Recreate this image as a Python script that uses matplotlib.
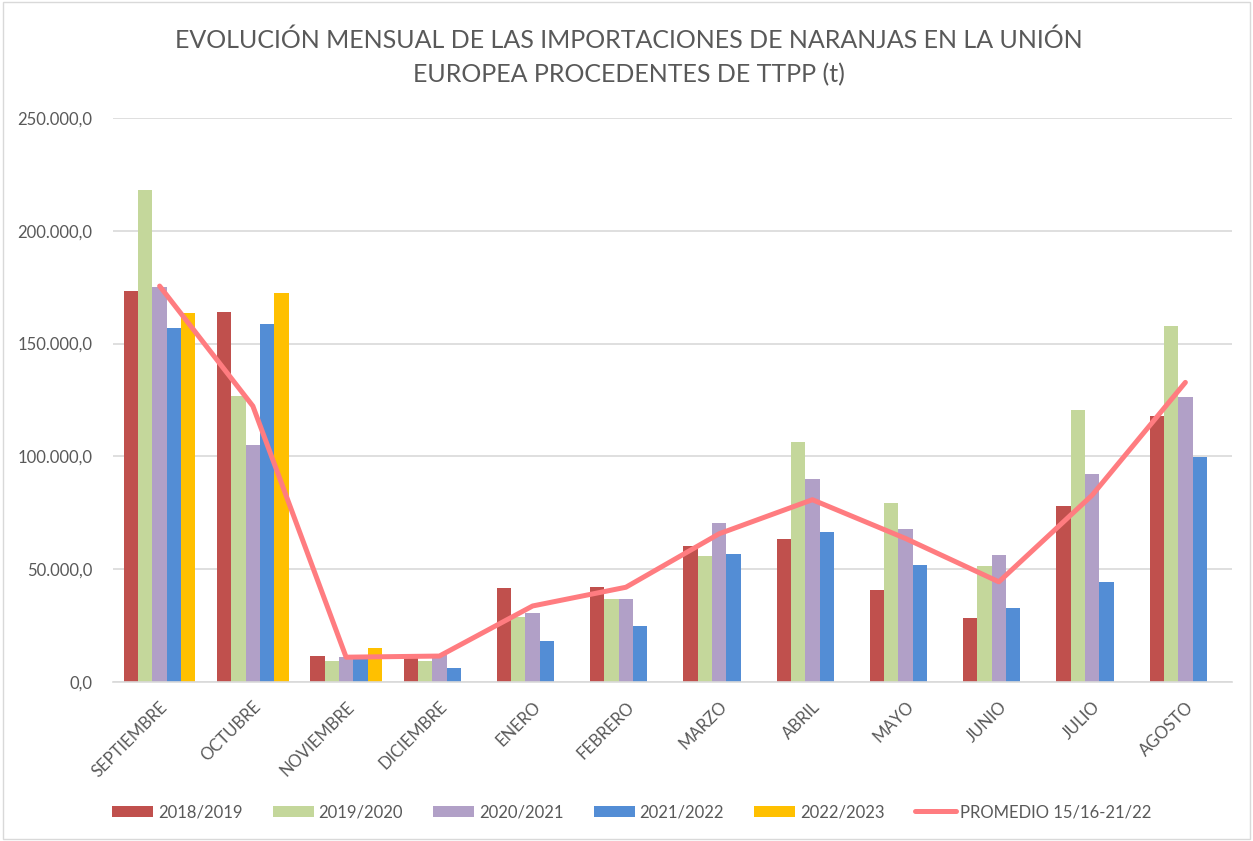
import matplotlib
matplotlib.use("Agg")
import matplotlib.pyplot as plt
import numpy as np
from matplotlib.ticker import FuncFormatter, MultipleLocator
from matplotlib.lines import Line2D
from matplotlib.patches import Patch

plt.rcParams['font.family'] = ['Lato', 'DejaVu Sans']

months = ["SEPTIEMBRE", "OCTUBRE", "NOVIEMBRE", "DICIEMBRE", "ENERO", "FEBRERO",
          "MARZO", "ABRIL", "MAYO", "JUNIO", "JULIO", "AGOSTO"]

s2018_2019 = [173500, 163900, 11500, 11500, 41600, 42300, 60200, 63400, 41000, 28400, 78100, 118000]
s2019_2020 = [218200, 126800, 9200, 9300, 29000, 36700, 56000, 106600, 79200, 51300, 120700, 157700]
s2020_2021 = [175000, 105200, 11100, 12000, 30600, 36700, 70700, 89900, 67600, 56100, 92000, 126200]
s2021_2022 = [156800, 158600, 11000, 6200, 18300, 24700, 56700, 66400, 51700, 33000, 44200, 99800]
s2022_2023 = [163600, 172500, 15000, None, None, None, None, None, None, None, None, None]
promedio = [175500, 122300, 11000, 11500, 33700, 42000, 65700, 80800, 63600, 44400, 82800, 132800]

series_labels = ["2018/2019", "2019/2020", "2020/2021", "2021/2022", "2022/2023"]
line_label = "PROMEDIO 15/16-21/22"
colors = ["#C0504D", "#C4D79B", "#B1A0C7", "#538DD5", "#FFC000"]
line_color = "#FF7C80"

fig = plt.figure(figsize=(12.53, 8.41), dpi=100)
ax = fig.add_axes([113/1253, 1-682/841, (1232-113)/1253, (682-118)/841])

x = np.arange(len(months))
bw = 0.153
all_series = [s2018_2019, s2019_2020, s2020_2021, s2021_2022, s2022_2023]
for i, (vals, c) in enumerate(zip(all_series, colors)):
    v = np.array([np.nan if a is None else a for a in vals], dtype=float)
    ax.bar(x + (i - 2) * bw, v, width=bw, color=c, edgecolor='none', zorder=2)

ax.plot(x, promedio, color=line_color, linewidth=3.6, solid_capstyle='round',
        solid_joinstyle='round', zorder=3)

ax.set_xlim(-0.5, len(months) - 0.5)
ax.set_ylim(0, 250000)
ax.yaxis.set_major_locator(MultipleLocator(50000))

def fmt(v, pos):
    s = f"{v:,.1f}"
    return s.replace(",", "X").replace(".", ",").replace("X", ".")
ax.yaxis.set_major_formatter(FuncFormatter(fmt))

ax.grid(axis='y', color='#D9D9D9', linewidth=1.2, zorder=0)
ax.set_axisbelow(True)
for sp in ['top', 'right', 'left']:
    ax.spines[sp].set_visible(False)
ax.spines['bottom'].set_color('#D9D9D9')
ax.spines['bottom'].set_linewidth(1.2)
ax.tick_params(axis='both', length=0, labelsize=12, colors='#595959')
ax.tick_params(axis='y', pad=15)
ax.set_xticks(x)
ax.set_xticklabels(months, rotation=45, ha='right', rotation_mode='anchor')
ax.tick_params(axis='x', pad=12)

fig.text(0.502, 1-40/841, "EVOLUCIÓN MENSUAL DE LAS IMPORTACIONES DE NARANJAS EN LA UNIÓN",
         ha='center', va='center', fontsize=18, color='#595959')
fig.text(0.502, 1-75/841, "EUROPEA PROCEDENTES DE TTPP (t)",
         ha='center', va='center', fontsize=18, color='#595959')

handles = [Patch(facecolor=c, edgecolor='none') for c in colors]
handles.append(Line2D([0], [0], color=line_color, linewidth=3.6, solid_capstyle='round'))
labels = series_labels + [line_label]
leg = fig.legend(handles, labels, loc='center left', bbox_to_anchor=(112/1253, 1-812/841),
                 ncol=6, frameon=False, fontsize=12, handlelength=2.46, handleheight=0.66,
                 columnspacing=1.8, handletextpad=0.3, borderpad=0, borderaxespad=0)
for t in leg.get_texts():
    t.set_color('#595959')

# chart border
fig.patches.append(plt.Rectangle((0.002, 0.002), 0.996, 0.996, transform=fig.transFigure,
                                 fill=False, edgecolor='#D9D9D9', linewidth=1))

fig.savefig("out.png", dpi=100)
